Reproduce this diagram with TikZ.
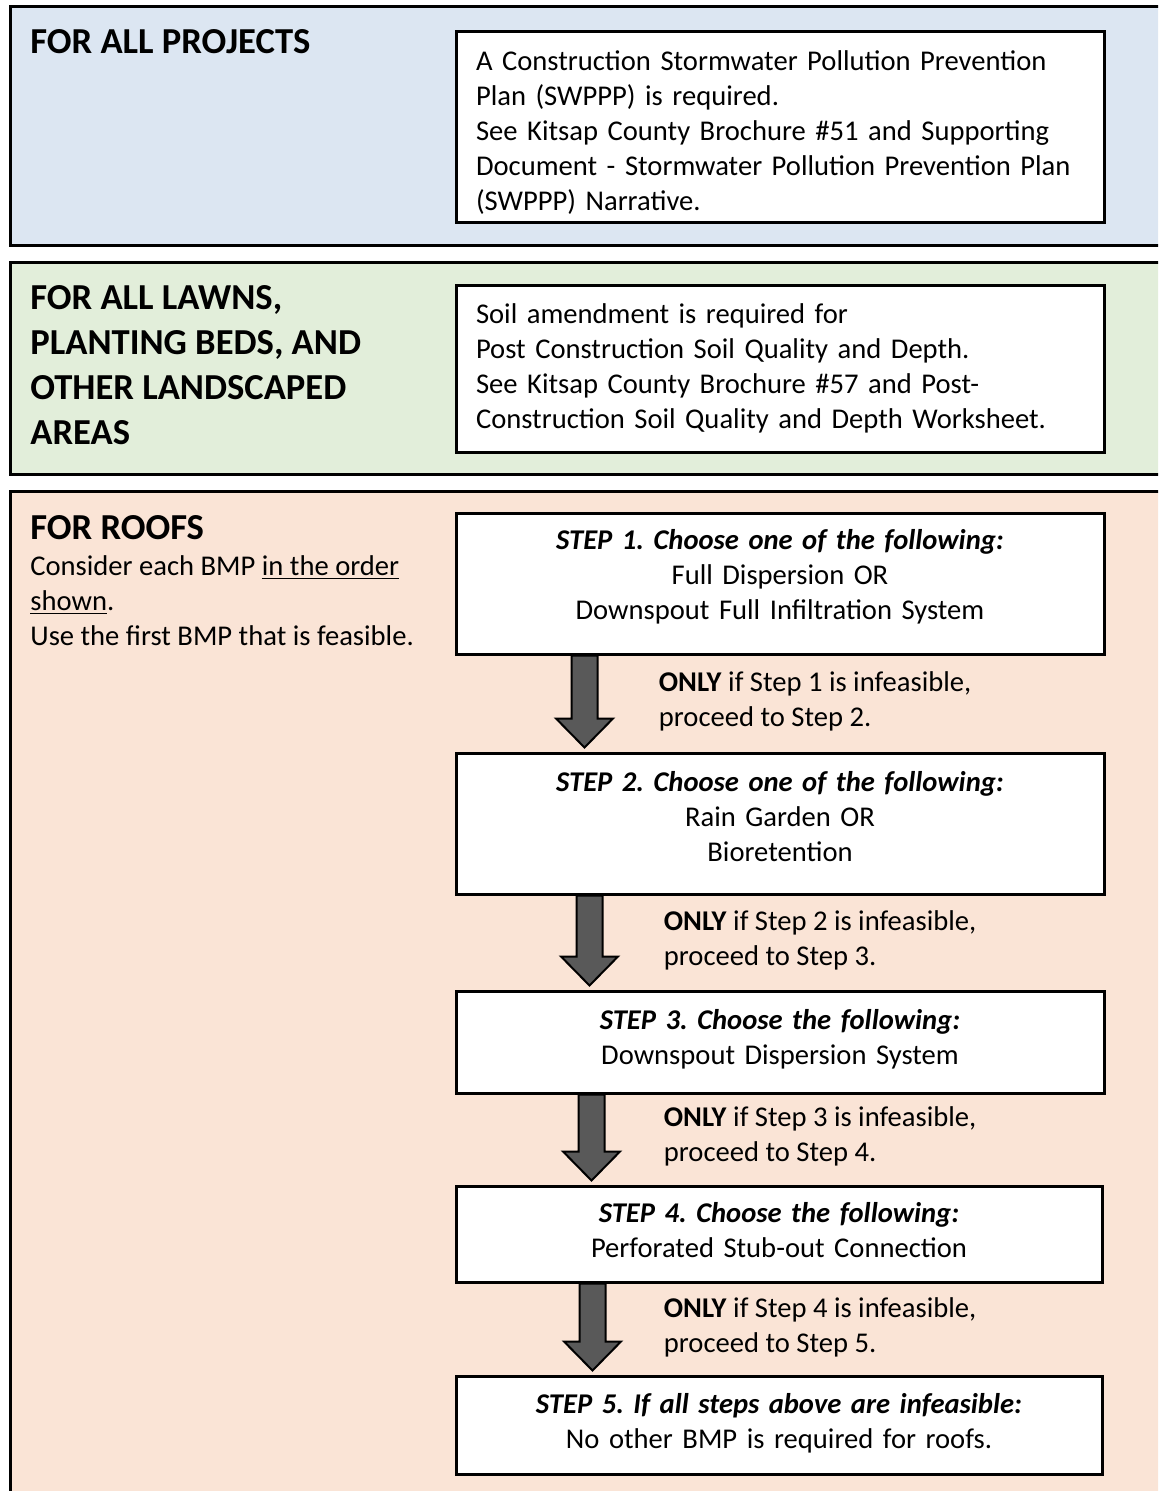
\documentclass[tikz,border=0pt]{standalone}
\usepackage{fontspec}
\setmainfont{Carlito}
\usetikzlibrary{calc, positioning}
\definecolor{panelblue}{RGB}{220,230,242}
\definecolor{panelgreen}{RGB}{226,238,218}
\definecolor{panelorange}{RGB}{250,228,214}
\definecolor{arrowgray}{RGB}{89,89,89}

\frenchspacing
\newcommand\bodyfont{\fontsize{14.3}{17.5}\selectfont}
\newcommand\headfont{\fontsize{18.3}{22.5}\selectfont\bfseries}
\newcommand\stephead[1]{\textbf{\textit{#1}}}

\tikzset{
  panel/.style={draw=black, line width=1.5pt},
  boxframe/.style={draw=black, line width=1.5pt, fill=white, minimum width=324pt},
  boxtext/.style={text width=306pt, inner sep=0pt, align=left, font=\bodyfont},
  steptext/.style={text width=306pt, inner sep=0pt, align=center, font=\bodyfont},
  heading/.style={anchor=north west, inner sep=0pt, align=left, font=\headfont},
  note/.style={anchor=north west, inner sep=0pt, align=left, font=\bodyfont},
  flow/.style={draw=black, line width=1pt, fill=arrowgray, line join=miter}
}

% block arrow from one step box down to the next
\newcommand\flowarrow[3]{%
  \draw[flow] let \p1=($(#1.south west)+(#2,0)$), \p2=($(#3.north west)+(#2,-4)$) in
    (\x1-6.5pt,\y1) -- (\x1+6.5pt,\y1) -- (\x1+6.5pt,\y2+14.5pt) -- (\x1+14.25pt,\y2+14.5pt)
    -- (\x1,\y2) -- (\x1-14.25pt,\y2+14.5pt) -- (\x1-6.5pt,\y2+14.5pt) -- cycle;}

\begin{document}
\begin{tikzpicture}[x=0.5pt, y=-0.5pt]
  \useasboundingbox (0,0) rectangle (1158,1491);
  \clip (0,0) rectangle (1158,1491);
  \fill[white] (0,0) rectangle (1158,1491);

  % panels
  \draw[panel, fill=panelblue] (10,7) rectangle (1180,246);
  \draw[panel, fill=panelgreen] (10,263) rectangle (1180,475);
  \draw[panel, fill=panelorange] (10,492) rectangle (1180,1510);

  % headings
  \node[heading] (hall) at (30,29) {FOR ALL PROJECTS};
  \node[heading] (hlawn) at (30,285) {FOR ALL LAWNS,\\PLANTING BEDS, AND\\OTHER LANDSCAPED\\AREAS};
  \node[heading] (hroof) at (30,515) {FOR ROOFS};
  \node[note] (roofnote) at (30,555) {Consider each BMP \underline{in the order}\\\underline{shown}.\\Use the first BMP that is feasible.};

  % info boxes
  \node[boxframe, minimum height=95.5pt] (swppp) at (780,127.5) {};
  \node[boxtext] (swppptxt) at ($(swppp)+(2,5)$) {A Construction Stormwater Pollution Prevention\\Plan (SWPPP) is required.\\See Kitsap County Brochure \#51 and Supporting\\Document - Stormwater Pollution Prevention Plan\\(SWPPP) Narrative.};
  \node[boxframe, minimum height=83.5pt] (soil) at (780,369.5) {};
  \node[boxtext] (soiltxt) at ($(soil)+(2,-1)$) {Soil amendment is required for\\Post Construction Soil Quality and Depth.\\See Kitsap County Brochure \#57 and Post-\\Construction Soil Quality and Depth Worksheet.};

  % steps
  \node[boxframe, minimum height=70pt] (s1) at (780,584) {};
  \node[steptext] (s1txt) at ($(s1)+(0,-7)$) {\stephead{STEP 1. Choose one of the following:}\\Full Dispersion OR\\Downspout Full Infiltration System};
  \node[boxframe, minimum height=70.5pt] (s2) at (780,823.5) {};
  \node[steptext] (s2txt) at ($(s2)+(0,-7)$) {\stephead{STEP 2. Choose one of the following:}\\Rain Garden OR\\Bioretention};
  \node[boxframe, minimum height=51pt] (s3) at (780,1042) {};
  \node[steptext] (s3txt) at ($(s3)+(0,-3)$) {\stephead{STEP 3. Choose the following:}\\Downspout Dispersion System};
  \node[boxframe, minimum height=48pt, minimum width=323pt] (s4) at (779,1234) {};
  \node[steptext] (s4txt) at ($(s4)+(0,-4)$) {\stephead{STEP 4. Choose the following:}\\Perforated Stub-out Connection};
  \node[boxframe, minimum height=49pt, minimum width=323pt] (s5) at (779,1425) {};
  \node[steptext] (s5txt) at ($(s5)+(0,-2)$) {\stephead{STEP 5. If all steps above are infeasible:}\\No other BMP is required for roofs.};

  % arrows between steps
  \flowarrow{s1}{130}{s2}
  \flowarrow{s2}{135}{s3}
  \flowarrow{s3}{137}{s4}
  \flowarrow{s4}{138}{s5}

  % conditions
  \node[note] (c1) at ($(s1.south west)+(204,16)$) {\textbf{ONLY} if Step 1 is infeasible,\\proceed to Step 2.};
  \node[note] (c2) at ($(s2.south west)+(209,15)$) {\textbf{ONLY} if Step 2 is infeasible,\\proceed to Step 3.};
  \node[note] (c3) at ($(s3.south west)+(209,12)$) {\textbf{ONLY} if Step 3 is infeasible,\\proceed to Step 4.};
  \node[note] (c4) at ($(s4.south west)+(209,14)$) {\textbf{ONLY} if Step 4 is infeasible,\\proceed to Step 5.};
\end{tikzpicture}
\end{document}
